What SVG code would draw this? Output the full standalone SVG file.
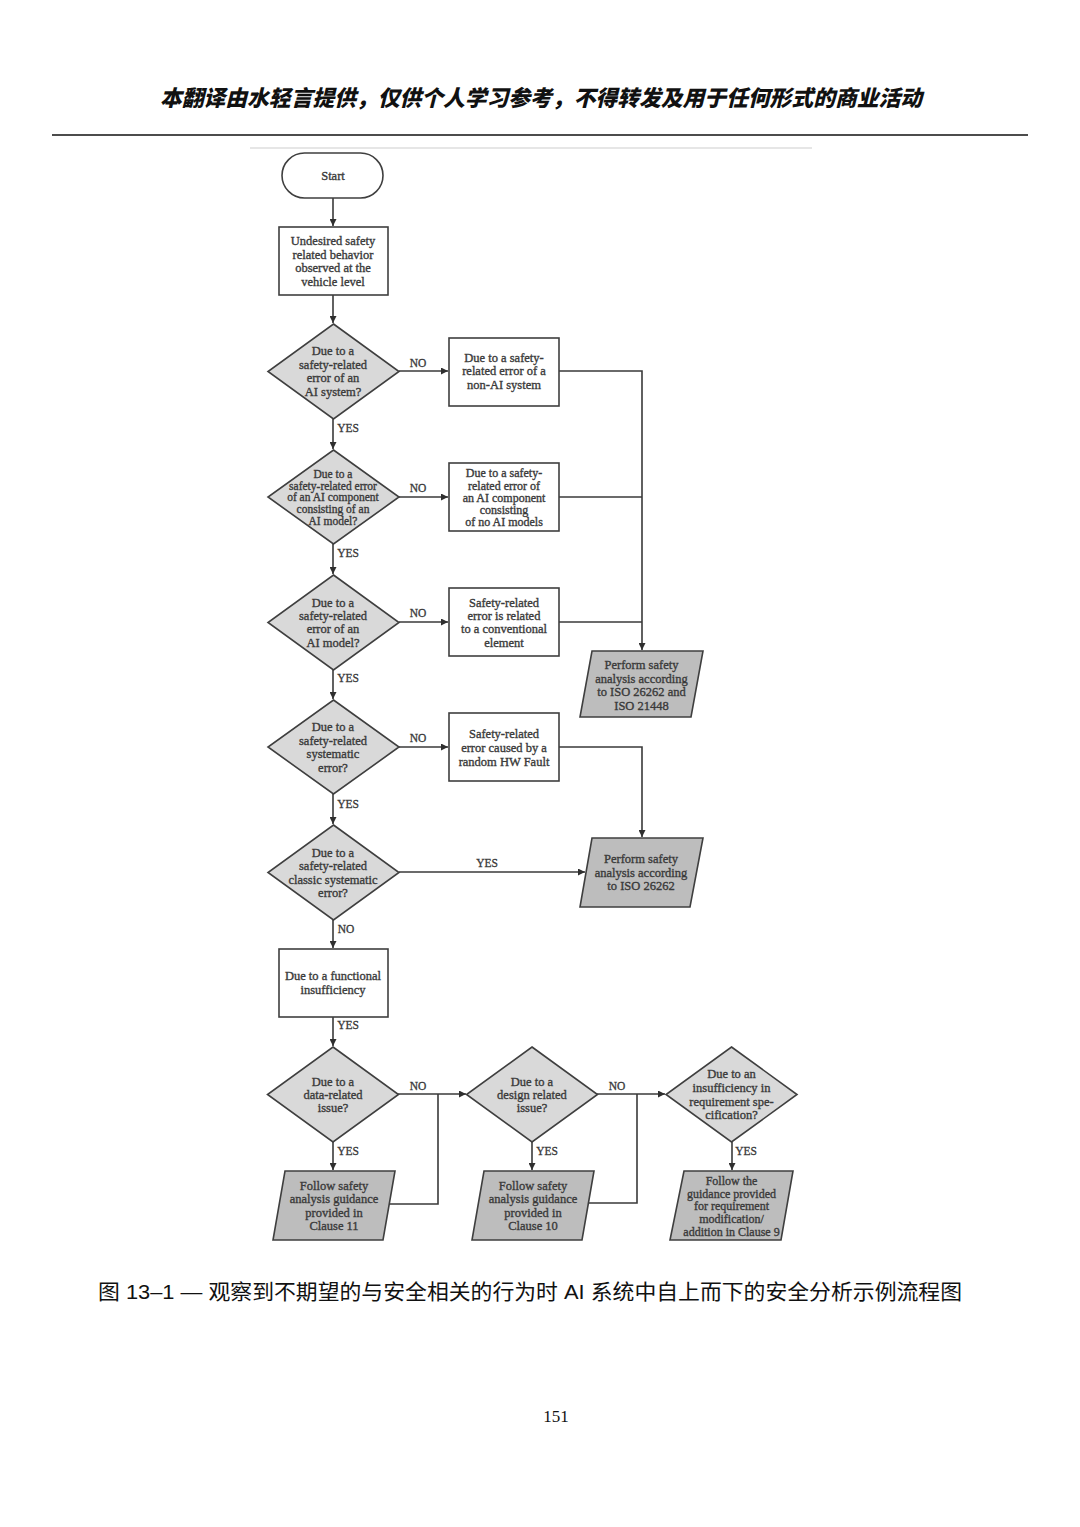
<svg xmlns="http://www.w3.org/2000/svg" width="1080" height="1527" viewBox="0 0 1080 1527">
<style>
.bg{fill:#ffffff}
.node{stroke:#3f3f3f;stroke-width:1.6}
.term{fill:#ffffff}
.box{fill:#ffffff}
.dia{fill:#d9d9d9}
.par{fill:#bdbdbd}
.t{font-family:"Liberation Serif","Times New Roman",serif;font-size:12.5px;fill:#3a3a3a;stroke:#3a3a3a;stroke-width:0.35px;text-anchor:middle}
.s{font-size:11.5px}
.m{font-size:12px}
.lbl{font-family:"Liberation Serif","Times New Roman",serif;font-size:11.5px;fill:#3a3a3a;stroke:#3a3a3a;stroke-width:0.3px;text-anchor:middle}
.conn{fill:none;stroke:#3a3a3a;stroke-width:1.6}
</style>
<defs>
<marker id="arr" viewBox="0 0 10 10" refX="10" refY="5" markerWidth="10" markerHeight="7" markerUnits="userSpaceOnUse" orient="auto">
<path d="M0,0 L10,5 L0,10 z" fill="#2f2f2f"/>
</marker>
</defs>
<rect class="bg" x="0" y="0" width="1080" height="1527"/>

<g id="header">
<text x="541" y="106" font-family="'Noto Sans CJK SC','Noto Sans CJK JP',sans-serif" font-size="22" font-weight="900" font-style="italic" fill="#111111" text-anchor="middle" textLength="762" lengthAdjust="spacingAndGlyphs">本翻译由水轻言提供，仅供个人学习参考，不得转发及用于任何形式的商业活动</text>
<line x1="52" y1="135" x2="1028" y2="135" stroke="#111111" stroke-width="1.6"/>
<line x1="250" y1="148" x2="812" y2="148" stroke="#e6e6e6" stroke-width="2"/>
</g>

<g id="connectors">
<path class="conn" d="M333,198 V226" marker-end="url(#arr)"/>
<path class="conn" d="M333,295 V323" marker-end="url(#arr)"/>
<path class="conn" d="M399,371 H448" marker-end="url(#arr)"/>
<path class="conn" d="M333,419 V449" marker-end="url(#arr)"/>
<path class="conn" d="M399,497 H448" marker-end="url(#arr)"/>
<path class="conn" d="M333,544 V574" marker-end="url(#arr)"/>
<path class="conn" d="M399,622 H448" marker-end="url(#arr)"/>
<path class="conn" d="M333,670 V699" marker-end="url(#arr)"/>
<path class="conn" d="M399,747 H448" marker-end="url(#arr)"/>
<path class="conn" d="M333,794 V824" marker-end="url(#arr)"/>
<path class="conn" d="M399,872 H585" marker-end="url(#arr)"/>
<path class="conn" d="M333,920 V948" marker-end="url(#arr)"/>
<path class="conn" d="M333,1017 V1046" marker-end="url(#arr)"/>
<path class="conn" d="M559,371 H642 V650" marker-end="url(#arr)"/>
<path class="conn" d="M559,497 H642"/>
<path class="conn" d="M559,622 H642"/>
<path class="conn" d="M559,747 H642 V837" marker-end="url(#arr)"/>
<path class="conn" d="M333,1142 V1170" marker-end="url(#arr)"/>
<path class="conn" d="M398,1094 H466" marker-end="url(#arr)"/>
<path class="conn" d="M389,1204 H438 V1094"/>
<path class="conn" d="M532,1142 V1170" marker-end="url(#arr)"/>
<path class="conn" d="M597,1094 H665" marker-end="url(#arr)"/>
<path class="conn" d="M588,1203 H637 V1094"/>
<path class="conn" d="M732,1142 V1170" marker-end="url(#arr)"/>
<text class="lbl" x="418" y="367">NO</text>
<text class="lbl" x="348" y="432">YES</text>
<text class="lbl" x="418" y="492">NO</text>
<text class="lbl" x="348" y="557">YES</text>
<text class="lbl" x="418" y="617">NO</text>
<text class="lbl" x="348" y="682">YES</text>
<text class="lbl" x="418" y="742">NO</text>
<text class="lbl" x="348" y="808">YES</text>
<text class="lbl" x="487" y="867">YES</text>
<text class="lbl" x="346" y="933">NO</text>
<text class="lbl" x="348" y="1029">YES</text>
<text class="lbl" x="418" y="1090">NO</text>
<text class="lbl" x="348" y="1155">YES</text>
<text class="lbl" x="617" y="1090">NO</text>
<text class="lbl" x="547" y="1155">YES</text>
<text class="lbl" x="746" y="1155">YES</text>
</g>

<g id="start">
<rect class="node term" x="282" y="153" width="101" height="45" rx="22.5" ry="22.5"/>
<text class="t" x="333" y="180">Start</text>
</g>

<g id="observed">
<rect class="node box" x="279" y="227" width="109" height="68"/>
<text class="t" x="333"><tspan x="333" y="245">Undesired safety</tspan><tspan x="333" y="259">related behavior</tspan><tspan x="333" y="272">observed at the</tspan><tspan x="333" y="286">vehicle level</tspan></text>
</g>

<g id="q-ai-system">
<polygon class="node dia" points="333.5,324 399,371.5 333.5,419 268,371.5"/>
<text class="t" x="333"><tspan x="333" y="355">Due to a</tspan><tspan x="333" y="369">safety-related</tspan><tspan x="333" y="382">error of an</tspan><tspan x="333" y="396">AI system?</tspan></text>
</g>

<g id="non-ai-system">
<rect class="node box" x="449" y="338" width="110" height="68"/>
<text class="t" x="504"><tspan x="504" y="362">Due to a safety-</tspan><tspan x="504" y="375">related error of a</tspan><tspan x="504" y="389">non-AI system</tspan></text>
</g>

<g id="q-ai-component">
<polygon class="node dia" points="333.5,450 399,497 333.5,544 268,497"/>
<text class="t s" x="333"><tspan x="333" y="478">Due to a</tspan><tspan x="333" y="490">safety-related error</tspan><tspan x="333" y="501">of an AI component</tspan><tspan x="333" y="513">consisting of an</tspan><tspan x="333" y="525">AI model?</tspan></text>
</g>

<g id="no-ai-models">
<rect class="node box" x="449" y="463" width="110" height="68"/>
<text class="t m" x="504"><tspan x="504" y="477">Due to a safety-</tspan><tspan x="504" y="490">related error of</tspan><tspan x="504" y="502">an AI component</tspan><tspan x="504" y="514">consisting</tspan><tspan x="504" y="526">of no AI models</tspan></text>
</g>

<g id="q-ai-model">
<polygon class="node dia" points="333.5,575 399,622.5 333.5,670 268,622.5"/>
<text class="t" x="333"><tspan x="333" y="607">Due to a</tspan><tspan x="333" y="620">safety-related</tspan><tspan x="333" y="633">error of an</tspan><tspan x="333" y="647">AI model?</tspan></text>
</g>

<g id="conventional">
<rect class="node box" x="449" y="588" width="110" height="68"/>
<text class="t" x="504"><tspan x="504" y="607">Safety-related</tspan><tspan x="504" y="620">error is related</tspan><tspan x="504" y="633">to a conventional</tspan><tspan x="504" y="647">element</tspan></text>
</g>

<g id="iso-26262-21448">
<polygon class="node par" points="592,651 703,651 691,717 580,717"/>
<text class="t" x="641.5"><tspan x="641.5" y="669">Perform safety</tspan><tspan x="641.5" y="683">analysis according</tspan><tspan x="641.5" y="696">to ISO 26262 and</tspan><tspan x="641.5" y="710">ISO 21448</tspan></text>
</g>

<g id="q-systematic">
<polygon class="node dia" points="333.5,700 399,747 333.5,794 268,747"/>
<text class="t" x="333"><tspan x="333" y="731">Due to a</tspan><tspan x="333" y="745">safety-related</tspan><tspan x="333" y="758">systematic</tspan><tspan x="333" y="772">error?</tspan></text>
</g>

<g id="random-hw">
<rect class="node box" x="449" y="713" width="110" height="68"/>
<text class="t" x="504"><tspan x="504" y="738">Safety-related</tspan><tspan x="504" y="752">error caused by a</tspan><tspan x="504" y="766">random HW Fault</tspan></text>
</g>

<g id="q-classic">
<polygon class="node dia" points="333.5,825 399,872.5 333.5,920 268,872.5"/>
<text class="t" x="333"><tspan x="333" y="857">Due to a</tspan><tspan x="333" y="870">safety-related</tspan><tspan x="333" y="884">classic systematic</tspan><tspan x="333" y="897">error?</tspan></text>
</g>

<g id="iso-26262">
<polygon class="node par" points="592,838 703,838 690,907 580,907"/>
<text class="t" x="641"><tspan x="641" y="863">Perform safety</tspan><tspan x="641" y="877">analysis according</tspan><tspan x="641" y="890">to ISO 26262</tspan></text>
</g>

<g id="functional">
<rect class="node box" x="279" y="949" width="109" height="68"/>
<text class="t" x="333"><tspan x="333" y="980">Due to a functional</tspan><tspan x="333" y="994">insufficiency</tspan></text>
</g>

<g id="q-data">
<polygon class="node dia" points="333,1047 398.5,1094.5 333,1142 267.5,1094.5"/>
<text class="t" x="333"><tspan x="333" y="1086">Due to a</tspan><tspan x="333" y="1099">data-related</tspan><tspan x="333" y="1112">issue?</tspan></text>
</g>

<g id="clause-11">
<polygon class="node par" points="285,1171 395,1171 383,1240 273,1240"/>
<text class="t" x="334"><tspan x="334" y="1190">Follow safety</tspan><tspan x="334" y="1203">analysis guidance</tspan><tspan x="334" y="1217">provided in</tspan><tspan x="334" y="1230">Clause 11</tspan></text>
</g>

<g id="q-design">
<polygon class="node dia" points="532,1047 597.5,1094.5 532,1142 466.5,1094.5"/>
<text class="t" x="532"><tspan x="532" y="1086">Due to a</tspan><tspan x="532" y="1099">design related</tspan><tspan x="532" y="1112">issue?</tspan></text>
</g>

<g id="clause-10">
<polygon class="node par" points="484,1171 594,1171 582,1240 472,1240"/>
<text class="t" x="533"><tspan x="533" y="1190">Follow safety</tspan><tspan x="533" y="1203">analysis guidance</tspan><tspan x="533" y="1217">provided in</tspan><tspan x="533" y="1230">Clause 10</tspan></text>
</g>

<g id="q-requirement">
<polygon class="node dia" points="731.5,1047 797,1094.5 731.5,1142 666,1094.5"/>
<text class="t" x="731.5"><tspan x="731.5" y="1078">Due to an</tspan><tspan x="731.5" y="1092">insufficiency in</tspan><tspan x="731.5" y="1106">requirement spe-</tspan><tspan x="731.5" y="1119">cification?</tspan></text>
</g>

<g id="clause-9">
<polygon class="node par" points="684,1171 793,1171 781,1240 670,1240"/>
<text class="t m" x="731.5"><tspan x="731.5" y="1185">Follow the</tspan><tspan x="731.5" y="1198">guidance provided</tspan><tspan x="731.5" y="1210">for requirement</tspan><tspan x="731.5" y="1223">modification/</tspan><tspan x="731.5" y="1236">addition in Clause 9</tspan></text>
</g>

<g id="caption">
<text x="530" y="1299" font-family="'Liberation Sans','Noto Sans CJK SC',sans-serif" font-size="21" fill="#111111" text-anchor="middle" textLength="864" lengthAdjust="spacingAndGlyphs">图 13–1 — 观察到不期望的与安全相关的行为时 AI 系统中自上而下的安全分析示例流程图</text>
<text x="556" y="1422" font-family="'Liberation Serif','Times New Roman',serif" font-size="17" fill="#111111" text-anchor="middle">151</text>
</g>
</svg>
